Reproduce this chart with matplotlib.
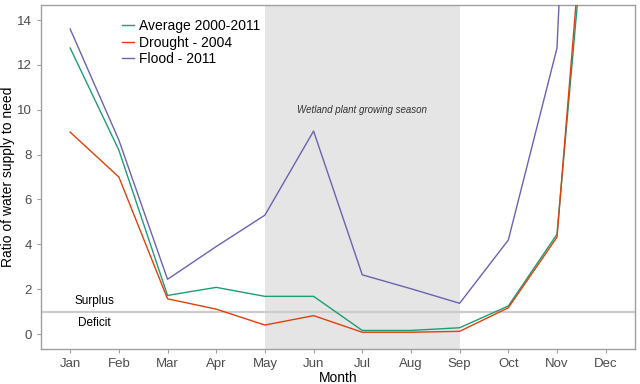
import matplotlib
matplotlib.use('Agg')
import matplotlib.pyplot as plt
import numpy as np

plt.rcParams['font.family'] = ['Liberation Sans', 'DejaVu Sans']

months = ['Jan', 'Feb', 'Mar', 'Apr', 'May', 'Jun', 'Jul', 'Aug', 'Sep', 'Oct', 'Nov', 'Dec']
average = [12.75, 8.2, 1.72, 2.08, 1.68, 1.68, 0.16, 0.16, 0.28, 1.25, 4.45, 29]
drought = [9.0, 7.0, 1.57, 1.11, 0.40, 0.82, 0.08, 0.08, 0.12, 1.17, 4.32, 31]
flood = [13.6, 8.65, 2.44, 3.9, 5.3, 9.05, 2.64, 2.02, 1.37, 4.19, 12.75, 60]

season_start, season_end = 5, 9

x = np.arange(1, 13)

fig = plt.figure(figsize=(6.4, 3.84), dpi=100)
ax = fig.add_axes([0.064, 0.091, 0.928, 0.896])

ax.axvspan(season_start, season_end, color='#E5E5E5', lw=0, zorder=0)
ax.axhline(1, color='#CCCCCC', lw=1.6, zorder=1)

ax.plot(x, average, color='#1B9E77', lw=1, label='Average 2000-2011', zorder=3)
ax.plot(x, drought, color='#E0400A', lw=1, label='Drought - 2004', zorder=3)
ax.plot(x, flood, color='#6A63B0', lw=1, label='Flood - 2011', zorder=3)

ax.text(7, 10, 'Wetland plant growing season', style='italic', fontsize=7,
        color='#333333', ha='center', va='center')
ax.text(1.49, 1.47, 'Surplus', fontsize=8.5, ha='center', va='center', color='black')
ax.text(1.49, 0.49, 'Deficit', fontsize=8.5, ha='center', va='center', color='black')

ax.set_xlim(0.4, 12.6)
ax.set_ylim(-0.67, 14.67)
ax.set_xticks(x)
ax.set_xticklabels(months)
ax.set_yticks(np.arange(0, 15, 2))
ax.tick_params(colors='#A0A0A0', labelcolor='#4D4D4D', labelsize=9.5, length=3, width=0.8)
for s in ax.spines.values():
    s.set_color('#A0A0A0')
    s.set_linewidth(1)

ax.set_xlabel('Month', fontsize=10, labelpad=1)
ax.set_ylabel('Ratio of water supply to need', fontsize=10)
ax.yaxis.set_label_coords(-0.043, 0.5)

leg = ax.legend(loc='upper left', bbox_to_anchor=(0.127, 0.976), frameon=False,
                fontsize=10, handlelength=0.9, handletextpad=0.3, labelspacing=0.2,
                borderaxespad=0)

fig.savefig('out.png', dpi=100)
